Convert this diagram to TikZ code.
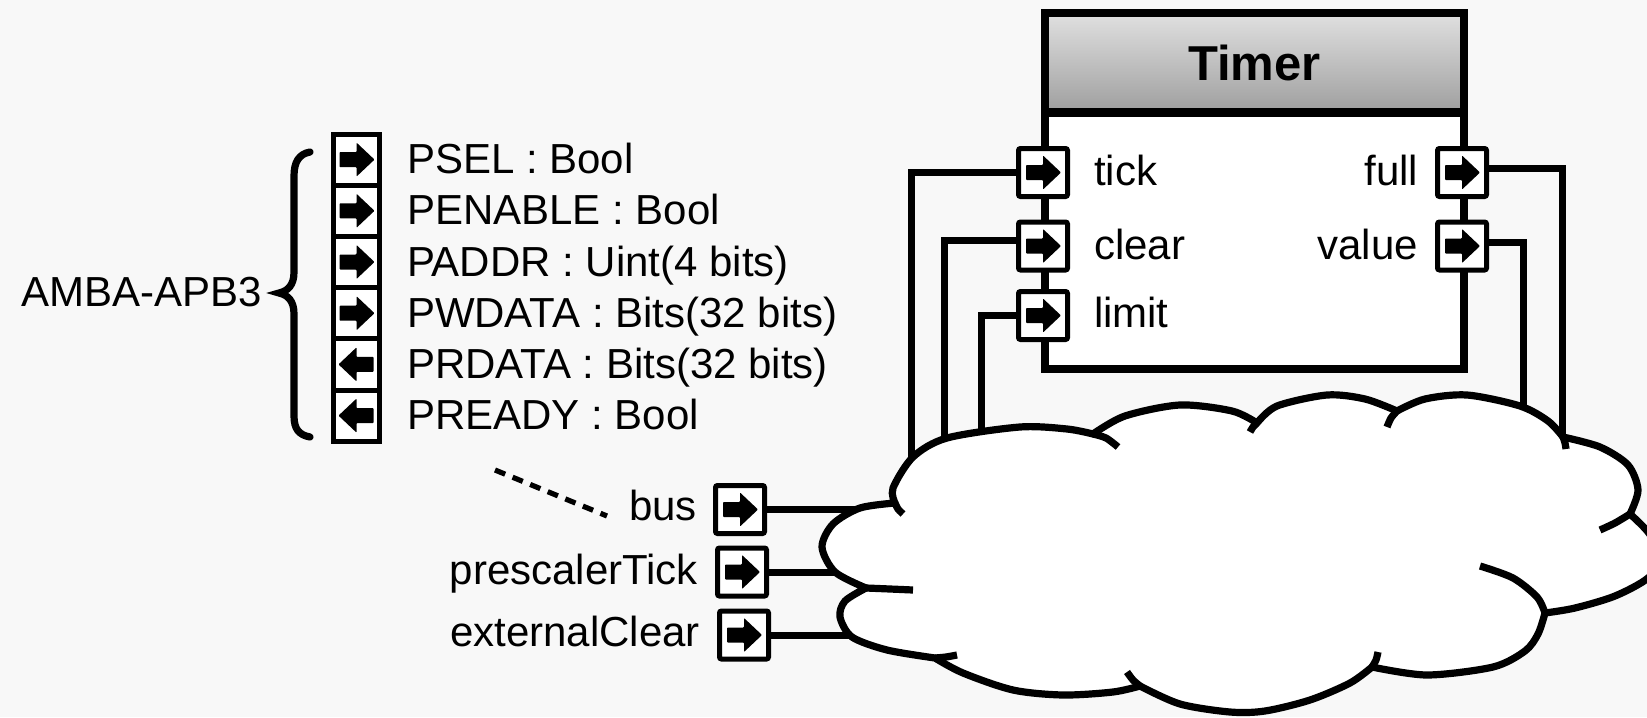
\documentclass[tikz,border=0pt]{standalone}
\usepackage{fontspec}
\setmainfont{Liberation Sans}
\definecolor{bgc}{gray}{0.972}
\definecolor{hdtop}{gray}{0.88}
\definecolor{hdbot}{gray}{0.62}
\begin{document}
\begin{tikzpicture}[x=0.5pt,y=-0.5pt,
  portbox/.style={draw=black, fill=white, line width=2.5pt, rounded corners=1pt,
    minimum width=24.5pt, minimum height=24pt, inner sep=0pt, outer sep=0pt},
  rarrowpic/.style={path picture={\fill[black, rounded corners=0.4pt]
    ([xshift=-8.5pt,yshift=3.75pt]path picture bounding box.center) -- ++(8.5pt,0pt) -- ++(0pt,4.75pt)
    -- ++(9pt,-8.5pt) -- ++(-9pt,-8.5pt) -- ++(0pt,4.75pt) -- ++(-8.5pt,0pt) -- cycle;}},
  larrowpic/.style={path picture={\fill[black, rounded corners=0.4pt]
    ([xshift=8.5pt,yshift=3.75pt]path picture bounding box.center) -- ++(-8.5pt,0pt) -- ++(0pt,4.75pt)
    -- ++(-9pt,-8.5pt) -- ++(9pt,-8.5pt) -- ++(0pt,4.75pt) -- ++(8.5pt,0pt) -- cycle;}},
  rport/.style={portbox, rarrowpic},
  cellR/.style={draw=black, fill=white, line width=2.5pt, minimum width=23pt,
    minimum height=25.6pt, inner sep=0pt, outer sep=0pt, rarrowpic},
  cellL/.style={draw=black, fill=white, line width=2.5pt, minimum width=23pt,
    minimum height=25.6pt, inner sep=0pt, outer sep=0pt, larrowpic},
  lbl/.style={inner sep=0pt, outer sep=0pt, text height=15pt, text depth=0pt,
    font=\fontsize{21pt}{25pt}\selectfont},
  wire/.style={line width=3.5pt, line join=miter},
  cloudline/.style={line width=3.6pt, line join=round, line cap=butt},
]
\useasboundingbox (0,0) rectangle (1647,717);
\clip (0,0) rectangle (1647,717);
\fill[bgc] (0,0) rectangle (1647,717);

% ---------- Timer block ----------
\node[fill=white, minimum width=209.5pt, minimum height=178pt, inner sep=0pt, outer sep=0pt]
  (timer) at (1254.5,191) {};
\shade[top color=hdtop, bottom color=hdbot] (1045,13) rectangle (1464,113);
\draw[line width=4.5pt] (1045,113) -- (1464,113);
\draw[line width=4pt] (timer.north west) rectangle (timer.south east);
\node[inner sep=0pt, text height=17.5pt, text depth=0pt,
  font=\bfseries\fontsize{24.5pt}{29pt}\selectfont] (ttl) at (1254.5,63.5) {Timer};

% Timer ports
\node[rport] (pTick)  at (1043,172.5) {};
\node[rport] (pClear) at (1043,246) {};
\node[rport] (pLimit) at (1043,315.5) {};
\node[rport] (pFull)  at (1462,172.5) {};
\node[rport] (pValue) at (1462,246) {};
\node[lbl, anchor=west] (lTick)  at (1094,170) {tick};
\node[lbl, anchor=west] (lClear) at (1094,244) {clear};
\node[lbl, anchor=west] (lLimit) at (1094,312.5) {limit};
\node[lbl, anchor=east] (lFull)  at (1418,170) {full};
\node[lbl, anchor=east] (lValue) at (1418,244) {value};

% ---------- AMBA-APB3 bundle ----------
\node[lbl, anchor=west] (amba) at (21,291) {AMBA-APB3};
\draw[line width=3.6pt, line cap=round]
  (310,152) .. controls (299,154) and (294,162) .. (294,176) -- (294,272)
  .. controls (294,285) and (288,291) .. (279,293)
  .. controls (288,295) and (294,301) .. (294,314) -- (294,416)
  .. controls (294,429) and (299,435) .. (310,437);

\node[cellR] (s1) at (356.5,159.6) {};
\node[cellR] (s2) at (356.5,210.8) {};
\node[cellR] (s3) at (356.5,262.0) {};
\node[cellR] (s4) at (356.5,313.2) {};
\node[cellL] (s5) at (356.5,364.4) {};
\node[cellL] (s6) at (356.5,415.6) {};
\node[lbl, anchor=west] (t1) at (407,158.5) {PSEL : Bool};
\node[lbl, anchor=west] (t2) at (407,209.8) {PENABLE : Bool};
\node[lbl, anchor=west] (t3) at (407,261.0) {PADDR : Uint(4 bits)};
\node[lbl, anchor=west] (t4) at (407,312.2) {PWDATA : Bits(32 bits)};
\node[lbl, anchor=west] (t5) at (407,363.4) {PRDATA : Bits(32 bits)};
\node[lbl, anchor=west] (t6) at (407,414.6) {PREADY : Bool};

% ---------- external ports ----------
\node[rport] (pBus) at (740,509.5) {};
\node[rport] (pPre) at (742,572) {};
\node[rport] (pExt) at (744,635) {};
\node[lbl, anchor=east] (lBus) at (697,505) {bus};
\node[lbl, anchor=east] (lPre) at (698,569) {prescalerTick};
\node[lbl, anchor=east] (lExt) at (700,631) {externalClear};

\coordinate (dashA) at (495,470);
\coordinate (dashB) at (607,516);
\draw[line width=2.6pt, dash pattern=on 5.5pt off 4pt] (dashA) -- (dashB);

% ---------- wires (ends hidden inside the cloud) ----------
\coordinate (tickEnd)  at (911,485);
\coordinate (clearEnd) at (944,460);
\coordinate (limitEnd) at (981,450);
\coordinate (fullEnd)  at (1562,470);
\coordinate (valueEnd) at (1523,430);
\coordinate (busEnd)   at (915,509.5);
\coordinate (preEnd)   at (870,572);
\coordinate (extEnd)   at (880,635);

\draw[wire] (pTick.west) -| (tickEnd);
\draw[wire] ([yshift=3pt]pClear.west) -| (clearEnd);
\draw[wire] (pLimit.west) -| (limitEnd);
\draw[wire] ([yshift=2pt]pFull.east) -| (fullEnd);
\draw[wire] ([yshift=2pt]pValue.east) -| (valueEnd);
\draw[wire] (pBus.east) -- (busEnd);
\draw[wire] (pPre.east) -- (preEnd);
\draw[wire] (pExt.east) -- (extEnd);

% ---------- cloud ----------
\path[cloudline, draw=black, fill=white]
  plot[smooth] coordinates {(895,503) (893,488) (913,457) (947,438) (1020,427) (1067,429) (1093,434)}
  -- plot[smooth] coordinates {(1093,434) (1125,416) (1180,405) (1232,411) (1257,423)}
  -- plot[smooth] coordinates {(1257,423) (1277,406) (1327,395) (1365,399) (1397,411)}
  -- plot[smooth] coordinates {(1397,411) (1425,399) (1467,395) (1520,406) (1548,421) (1563,437)}
  -- plot[smooth] coordinates {(1563,437) (1600,447) (1628,465) (1638,490) (1630,514)}
  -- plot[smooth] coordinates {(1630,514) (1648,532) (1662,556) (1648,578) (1615,596) (1575,608) (1545,613)}
  -- plot[smooth] coordinates {(1545,613) (1538,634) (1525,651) (1493,667) (1427,675) (1372,667)}
  -- plot[smooth] coordinates {(1372,667) (1350,683) (1310,700) (1265,711) (1230,712) (1180,704) (1140,686)}
  -- plot[smooth] coordinates {(1140,686) (1113,692) (1063,695) (1013,690) (963,673) (935,658)}
  -- plot[smooth] coordinates {(935,658) (887,650) (852,637) (840,617) (845,601) (866,588)}
  -- plot[smooth] coordinates {(866,588) (835,572) (822,547) (833,524) (860,508) (895,503)}
  -- cycle;
\draw[cloudline] plot[smooth] coordinates {(895,503) (898,509) (903,514)};
\draw[cloudline] plot[smooth] coordinates {(866,588) (890,589) (913,590)};
\draw[cloudline] plot[smooth] coordinates {(935,658) (946,657) (957,655)};
\draw[cloudline] plot[smooth] coordinates {(1140,686) (1133,680) (1127,672)};
\draw[cloudline] plot[smooth] coordinates {(1372,667) (1376,660) (1378,652)};
\draw[cloudline] plot[smooth] coordinates {(1545,613) (1537,597) (1513,578) (1480,566)};
\draw[cloudline] plot[smooth] coordinates {(1630,514) (1615,523) (1600,530)};
\draw[cloudline] plot[smooth] coordinates {(1563,437) (1565,443) (1566,449)};
\draw[cloudline] plot[smooth] coordinates {(1397,411) (1391,418) (1387,427)};
\draw[cloudline] plot[smooth] coordinates {(1257,423) (1253,427) (1250,432)};
\draw[cloudline] plot[smooth] coordinates {(1093,434) (1106,438) (1118,447)};
\end{tikzpicture}
\end{document}
